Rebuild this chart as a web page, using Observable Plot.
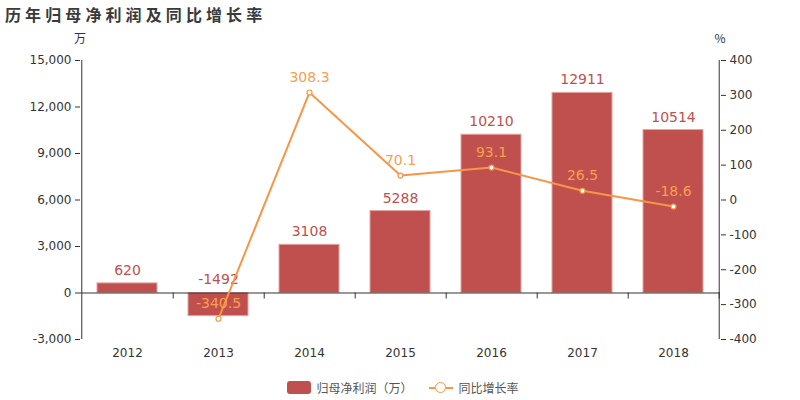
<!DOCTYPE html>
<html>
<head>
<meta charset="utf-8">
<script src="https://cdn.jsdelivr.net/npm/d3@7"></script>
<script src="https://cdn.jsdelivr.net/npm/@observablehq/plot@0.6"></script>
<style>
  html, body { margin: 0; padding: 0; background: #fff; }
  body { width: 800px; height: 400px; position: relative; overflow: hidden;
         font-family: "DejaVu Sans", "Noto Sans CJK SC", sans-serif; }
  #title { position: absolute; left: 5px; top: 2px; font-size: 16px; font-weight: bold;
           letter-spacing: 4.1px; color: #3a3a3a; font-family: "Noto Sans CJK SC", sans-serif; }
  .unit { position: absolute; top: 29px; font-size: 12px; color: #333;
          font-family: "Noto Sans CJK SC", "DejaVu Sans", sans-serif; transform: translateX(-50%); }
  #chart { position: absolute; left: 0; top: 0; }
  #legend { position: absolute; top: 379px; left: 3px; width: 800px; display: flex; justify-content: center;
            align-items: center; font-size: 12px; color: #555; font-family: "Noto Sans CJK SC", sans-serif; }
  .sw-bar { display: inline-block; width: 24px; height: 13px; border-radius: 3px; background: #c0504d; margin-right: 5px; }
  .sw-line { display: inline-block; position: relative; width: 24px; height: 13px; margin-left: 16px; margin-right: 6px; }
  .sw-line::before { content: ""; position: absolute; left: 0; right: 0; top: 6px; height: 1.5px; background: #f79646; }
  .sw-line::after { content: ""; position: absolute; left: 6.5px; top: 1px; width: 9px; height: 9px; border-radius: 50%;
                    border: 1.5px solid #f79646; background: #fff; }
</style>
</head>
<body>
<div id="chart"></div>
<div id="title">历年归母净利润及同比增长率</div>
<div class="unit" style="left:80px">万</div>
<div class="unit" style="left:720px">%</div>
<div id="legend"><span class="sw-bar"></span><span>归母净利润（万）</span><span class="sw-line"></span><span>同比增长率</span></div>
<script>
const years = ["2012", "2013", "2014", "2015", "2016", "2017", "2018"];
const profit = [620, -1492, 3108, 5288, 10210, 12911, 10514];
const growthYears = ["2013", "2014", "2015", "2016", "2017", "2018"];
const growth = [-340.5, 308.3, 70.1, 93.1, 26.5, -18.6];
const leftTicks = [-3000, 0, 3000, 6000, 9000, 12000, 15000];
const rightTicks = [-400, -300, -200, -100, 0, 100, 200, 300, 400];

const barColor = "#c0504d";
const lineColor = "#f79646";
const lineLabelColor = "#f7a04f";

// right axis mapping: % -> left-axis units
const toLeft = p => 6000 + p * 22.5;
const fromLeft = v => Math.round((v - 6000) / 22.5);

const fmt = d3.formatLocale({decimal: ".", thousands: ",", grouping: [3], currency: ["", ""], minus: "-"}).format(",");

const bars = years.map((y, i) => ({year: y, value: profit[i]}));
const pcts = growthYears.map((y, i) => ({year: y, pct: growth[i]}));

const W = 800, H = 400, ML = 80, MR = 80, MT = 60, MB = 61;
const halfStep = (W - ML - MR) / years.length / 2;

const chart = Plot.plot({
  width: W, height: H,
  marginTop: MT, marginBottom: MB, marginLeft: ML, marginRight: MR,
  style: {fontFamily: "DejaVu Sans, Noto Sans CJK SC, sans-serif", fontSize: "12px", color: "#333", background: "transparent"},
  x: {domain: years, paddingInner: 0.34, paddingOuter: 0.17, axis: null, label: null},
  y: {domain: [-3000, 15000], axis: null, label: null},
  marks: [
    Plot.barY(bars, {x: "year", y: "value", fill: barColor, stroke: "#e3a3a1", strokeWidth: 1}),
    Plot.ruleY([0], {stroke: "#333", strokeWidth: 1}),
    Plot.ruleX(years, {x: d => d, y1: 0, y2: 0, dx: halfStep, insetBottom: -6, stroke: "#333"}),
    Plot.ruleX([years[0]], {dx: -halfStep, stroke: "#333"}),
    Plot.ruleX([years[years.length - 1]], {dx: halfStep, stroke: "#333"}),
    Plot.axisY({anchor: "left", ticks: leftTicks, tickFormat: fmt, tickSize: 5, tickPadding: 4, label: null, fill: "#333", fontSize: 12}),
    Plot.axisY({anchor: "right", ticks: rightTicks.map(toLeft), tickFormat: v => String(fromLeft(v)), tickSize: 5, tickPadding: 4, label: null, fill: "#333", fontSize: 12}),
    Plot.axisX({anchor: "bottom", tickSize: 0, tickPadding: 9, label: null, fill: "#333", fontSize: 12}),
    Plot.text(bars, {x: "year", y: d => Math.max(d.value, 0), text: d => String(d.value), dy: -13, fill: barColor, fontSize: 14}),
    Plot.line(pcts, {x: "year", y: d => toLeft(d.pct), stroke: lineColor, strokeWidth: 2}),
    Plot.dot(pcts, {x: "year", y: d => toLeft(d.pct), r: 2.5, fill: "#fff", stroke: lineColor, strokeWidth: 1.2}),
    Plot.text(pcts, {x: "year", y: d => toLeft(d.pct), text: d => d.pct.toFixed(1), dy: -15, fill: lineLabelColor, fontSize: 14})
  ]
});
document.getElementById("chart").appendChild(chart);
</script>
</body>
</html>
